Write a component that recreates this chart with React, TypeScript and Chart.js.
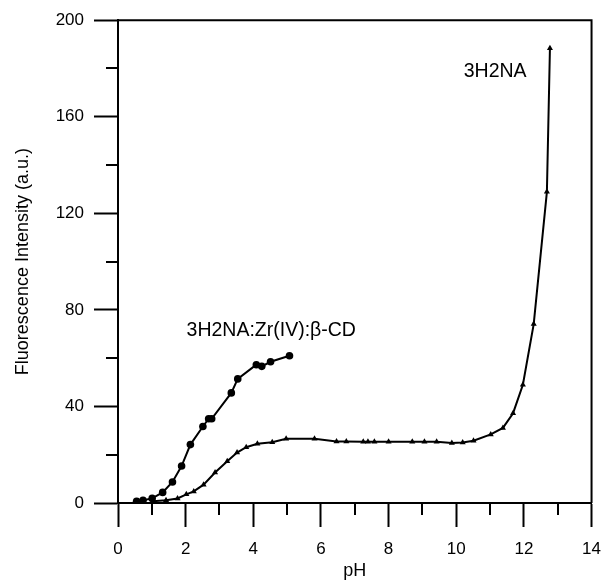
import { useEffect, useRef } from 'react';
import { Chart, registerables } from 'chart.js';

Chart.register(...registerables);

// 3H2NA:Zr(IV):β-CD (circles)
const complexPH = [0.55, 0.74, 1.01, 1.32, 1.61, 1.88, 2.14, 2.51, 2.68, 2.77, 3.35, 3.54, 4.09, 4.25, 4.51, 5.07];
const complexIntensity = [0.7, 1.1, 1.9, 4.4, 8.7, 15.3, 24.2, 31.7, 34.9, 34.9, 45.6, 51.4, 57.3, 56.6, 58.5, 61.0];

// 3H2NA (triangles)
const freePH = [1.03, 1.42, 1.76, 2.02, 2.24, 2.53, 2.87, 3.23, 3.52, 3.79, 4.12, 4.56, 4.97, 5.81, 6.46, 6.75, 7.25, 7.39, 7.58, 8.0, 8.7, 9.06, 9.42, 9.87, 10.19, 10.51, 11.02, 11.38, 11.68, 11.97, 12.29, 12.68, 12.77];
const freeIntensity = [0.7, 1.1, 1.9, 3.6, 4.8, 7.6, 12.6, 17.3, 20.9, 23.1, 24.5, 25.2, 26.6, 26.6, 25.5, 25.5, 25.4, 25.4, 25.4, 25.4, 25.4, 25.4, 25.4, 24.9, 25.1, 25.8, 28.4, 31.1, 37.2, 49.0, 74.1, 128.9, 188.4];

const minorXTicks = [1, 3, 5, 7, 9, 11, 13];
const minorYTicks = [20, 60, 100, 140, 180];

const annotationTexts = ['3H2NA:Zr(IV):β-CD', '3H2NA'];
const annotationPH = [4.53, 11.15];
const annotationIntensity = [71.3, 178.7];

const FONT = '"Liberation Sans", Arial, Helvetica, sans-serif';

const framePlugin = {
  id: 'frame',
  afterDraw(chart: any) {
    const { ctx, chartArea: a, scales } = chart;
    const x = scales.x;
    const y = scales.y;
    ctx.save();
    ctx.strokeStyle = '#000';
    ctx.lineWidth = 2;
    ctx.beginPath();
    ctx.moveTo(a.left, a.top);
    ctx.lineTo(a.right, a.top);
    ctx.lineTo(a.right, a.bottom);
    for (const v of minorXTicks) {
      const px = Math.round(x.getPixelForValue(v));
      ctx.moveTo(px, a.bottom);
      ctx.lineTo(px, a.bottom + 12);
    }
    for (const v of minorYTicks) {
      const py = Math.round(y.getPixelForValue(v));
      ctx.moveTo(a.left, py);
      ctx.lineTo(a.left - 12, py);
    }
    ctx.stroke();
    ctx.fillStyle = '#000';
    ctx.font = `19.5px ${FONT}`;
    ctx.textAlign = 'center';
    ctx.textBaseline = 'middle';
    annotationTexts.forEach((t, i) => {
      ctx.fillText(t, x.getPixelForValue(annotationPH[i]), y.getPixelForValue(annotationIntensity[i]));
    });
    ctx.restore();
  },
};

export default function App() {
  const ref = useRef<HTMLCanvasElement | null>(null);

  useEffect(() => {
    if (!ref.current) return;
    const chart = new Chart(ref.current, {
      type: 'scatter',
      data: {
        datasets: [
          {
            label: annotationTexts[0],
            data: complexPH.map((v, i) => ({ x: v, y: complexIntensity[i] })),
            showLine: true,
            borderColor: '#000',
            backgroundColor: '#000',
            borderWidth: 2,
            pointStyle: 'circle',
            pointRadius: 3.8,
            pointBorderWidth: 0,
            tension: 0,
          },
          {
            label: annotationTexts[1],
            data: freePH.map((v, i) => ({ x: v, y: freeIntensity[i] })),
            showLine: true,
            borderColor: '#000',
            backgroundColor: '#000',
            borderWidth: 2,
            pointStyle: 'triangle',
            pointRadius: 3.5,
            pointBorderWidth: 0,
            tension: 0,
          },
        ],
      },
      options: {
        responsive: false,
        animation: false,
        layout: { padding: { top: 19, right: 12, bottom: 0, left: 0 } },
        plugins: { legend: { display: false }, tooltip: { enabled: false } },
        scales: {
          x: {
            type: 'linear',
            min: 0,
            max: 14,
            afterFit: (s: any) => { s.height = 77; },
            ticks: { stepSize: 2, color: '#000', padding: 12, font: { family: FONT, size: 17 } },
            grid: { drawOnChartArea: false, tickLength: 24, tickWidth: 2, tickColor: '#000' },
            border: { display: true, color: '#000', width: 2 },
            title: { display: true, text: 'pH', color: '#000', padding: { top: 0, bottom: 0 }, font: { family: FONT, size: 18, lineHeight: 1 } },
          },
          y: {
            type: 'linear',
            min: 0,
            max: 200,
            afterFit: (s: any) => { s.width = 118; },
            ticks: { stepSize: 40, color: '#000', padding: 10, font: { family: FONT, size: 17 } },
            grid: { drawOnChartArea: false, tickLength: 24, tickWidth: 2, tickColor: '#000' },
            border: { display: true, color: '#000', width: 2 },
            title: { display: true, text: 'Fluorescence Intensity (a.u.)', color: '#000', padding: { top: 12, bottom: 0 }, font: { family: FONT, size: 18 } },
          },
        },
      },
      plugins: [framePlugin],
    });
    return () => chart.destroy();
  }, []);

  return (
    <div style={{ position: 'fixed', left: 0, top: 0, width: 613, height: 580, background: '#fff' }}>
      <canvas ref={ref} width={613} height={580} />
    </div>
  );
}
